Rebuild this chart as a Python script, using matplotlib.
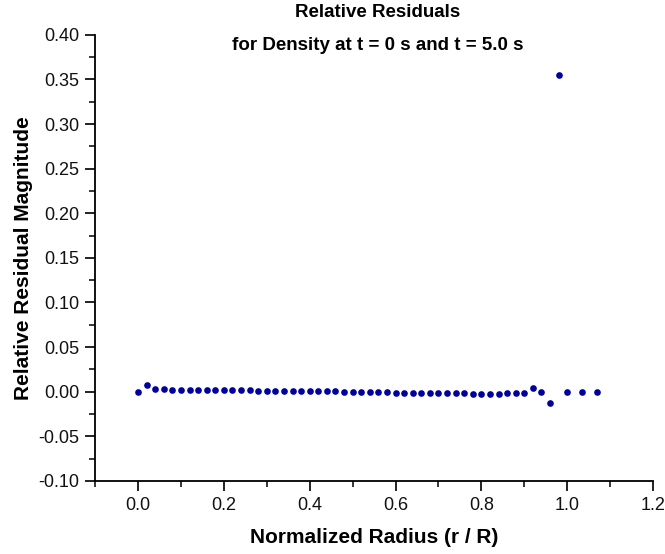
import matplotlib
matplotlib.use("Agg")
import matplotlib.pyplot as plt
from matplotlib.ticker import MultipleLocator

plt.rcParams['font.family'] = ['Liberation Sans', 'DejaVu Sans']

# normalized radius and relative residual of density
radius = [0.00, 0.02, 0.04, 0.06, 0.08, 0.10, 0.12, 0.14, 0.16, 0.18,
          0.20, 0.22, 0.24, 0.26, 0.28, 0.30, 0.32, 0.34, 0.36, 0.38,
          0.40, 0.42, 0.44, 0.46, 0.48, 0.50, 0.52, 0.54, 0.56, 0.58,
          0.60, 0.62, 0.64, 0.66, 0.68, 0.70, 0.72, 0.74, 0.76, 0.78,
          0.80, 0.82, 0.84, 0.86, 0.88, 0.90, 0.92, 0.94, 0.96, 0.98,
          1.00, 1.035, 1.07]
residual = [0.000, 0.007, 0.003, 0.003, 0.002, 0.002, 0.002, 0.002, 0.002, 0.002,
            0.002, 0.002, 0.002, 0.002, 0.001, 0.001, 0.001, 0.001, 0.001, 0.001,
            0.001, 0.001, 0.001, 0.001, 0.000, 0.000, 0.000, 0.000, 0.000, 0.000,
            -0.001, -0.001, -0.001, -0.001, -0.001, -0.002, -0.002, -0.002, -0.002, -0.003,
            -0.003, -0.003, -0.003, -0.002, -0.002, -0.001, 0.004, 0.000, -0.013, 0.355,
            0.000, 0.000, 0.000]

fig = plt.figure(figsize=(6.65, 5.54), dpi=100)
ax = fig.add_axes([0.143, 0.132, 0.839, 0.805])

ax.plot(radius, residual, 'o', color='#0000A0', markersize=4.8, markeredgewidth=0)

ax.set_xlim(-0.1, 1.2)
ax.set_ylim(-0.10, 0.40)
ax.xaxis.set_major_locator(MultipleLocator(0.2))
ax.xaxis.set_minor_locator(MultipleLocator(0.1))
ax.yaxis.set_major_locator(MultipleLocator(0.05))
ax.yaxis.set_minor_locator(MultipleLocator(0.025))
ax.xaxis.set_major_formatter(plt.FormatStrFormatter('%.1f'))
ax.yaxis.set_major_formatter(plt.FormatStrFormatter('%.2f'))

for s in ['top', 'right']:
    ax.spines[s].set_visible(False)
for s in ['left', 'bottom']:
    ax.spines[s].set_linewidth(1.3)
ax.tick_params(which='major', direction='out', length=7.5, width=1.3,
               labelsize=13, pad=4, colors='#111111')
ax.tick_params(which='minor', direction='out', length=4, width=1.1)

ax.set_xlabel('Normalized Radius (r / R)', fontsize=15, fontweight='bold', labelpad=10)
ax.set_ylabel('Relative Residual Magnitude', fontsize=15, fontweight='bold', labelpad=4)

fig.text(0.568, 0.978, 'Relative Residuals', ha='center', va='center',
         fontsize=13.5, fontweight='bold')
fig.text(0.568, 0.918, 'for Density at t = 0 s and t = 5.0 s', ha='center', va='center',
         fontsize=13.5, fontweight='bold')

fig.savefig('out.png', dpi=100)
